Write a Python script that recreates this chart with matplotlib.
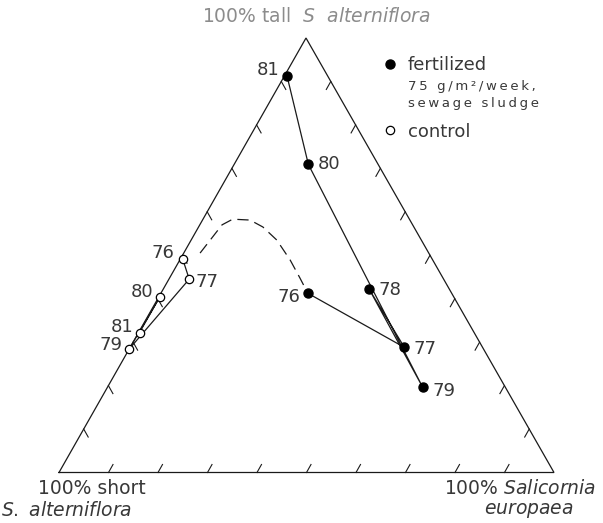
import numpy as np
import matplotlib
matplotlib.use("Agg")
import matplotlib.pyplot as plt
from matplotlib.lines import Line2D

plt.rcParams['font.family'] = ['DejaVu Sans']
plt.rcParams['mathtext.fontset'] = 'custom'
plt.rcParams['mathtext.rm'] = 'DejaVu Sans'
plt.rcParams['mathtext.it'] = 'DejaVu Sans:italic'

# ---- data (percent composition: tall S. alterniflora, Salicornia; short = rest)
fert_years = ["76", "77", "78", "79", "80", "81"]
fert_tall = [41.2, 28.8, 42.2, 19.6, 70.9, 91.3]
fert_salicornia = [29.8, 55.4, 41.6, 63.7, 15.0, 0.5]

ctrl_years = ["76", "77", "79", "80", "81"]
ctrl_tall = [49.1, 44.5, 28.4, 40.4, 32.2]
ctrl_salicornia = [0.5, 4.1, 0.0, 0.2, 0.2]

trans_tall = [50.5, 57.0, 58.3, 58.1, 56.5, 53.5, 48.9, 44.8, 42.5]
trans_salicornia = [3.3, 4.5, 6.0, 9.6, 13.0, 17.3, 22.3, 26.3, 28.5]

tick_fracs = [0.1, 0.2, 0.3, 0.4, 0.5, 0.6, 0.7, 0.8, 0.9]

# vertex layout (pixels): bottom-left, bottom-right, top
BLX, BRX, TOPX = 59.0, 554.0, 306.0
BASEY, TOPY = 472.5, 38.0
W = BRX - BLX
HT = BASEY - TOPY
SK = (TOPX - BLX) / W


def tern(tall, sal):
    tall = np.asarray(tall, float) / 100
    sal = np.asarray(sal, float) / 100
    return sal + tall * SK, tall


def pxoff(dpx, dpy):
    return dpx / W, -dpy / HT


fig = plt.figure(figsize=(6.03, 5.23), dpi=100)
ax = fig.add_axes([0, 0, 1, 1])
ax.set_xlim(-BLX / W, (603 - BLX) / W)
ax.set_ylim(-(523 - BASEY) / HT, BASEY / HT)
ax.axis('off')

lc = '#1a1a1a'
tx, ty = tern([0, 0, 100, 0], [0, 100, 0, 0])
ax.plot(tx, ty, color=lc, lw=0.9, solid_joinstyle='miter')

# ticks (short strokes pointing into the triangle)
for f in tick_fracs:
    bx, by = tern(0, f * 100)
    ox, oy = pxoff(4.5, -8)
    ax.plot([bx, bx + ox], [by, by + oy], color=lc, lw=0.8)
    rx, ry = tern(f * 100, (1 - f) * 100)
    ox, oy = pxoff(-4.5, 8)
    ax.plot([rx, rx + ox], [ry, ry + oy], color=lc, lw=0.8)
    lx, ly = tern(f * 100, 0)
    ox, oy = pxoff(4.5, 8)
    ax.plot([lx, lx + ox], [ly, ly + oy], color=lc, lw=0.8)

# transition dashed curve
dx, dy = tern(trans_tall, trans_salicornia)
ax.plot(dx, dy, color=lc, lw=0.9, ls=(0, (9, 5)))

# fertilized
fx, fy = tern(fert_tall, fert_salicornia)
ax.plot(fx, fy, color=lc, lw=0.9, marker='o', ms=6.5, mfc='black', mec='black')

# control
cx, cy = tern(ctrl_tall, ctrl_salicornia)
ax.plot(cx, cy, color=lc, lw=0.9, marker='o', ms=6, mfc='white', mec='black', mew=0.9)

fs = 13
tc = '#383838'
# offsets in pixels (dx, dy_down)
fert_off = {"76": (-8, 4, 'right'), "77": (9, 2, 'left'), "78": (9, 1, 'left'),
            "79": (9.5, 4, 'left'), "80": (9, 0, 'left'), "81": (-7, -6, 'right')}
for yr, x, y in zip(fert_years, fx, fy):
    ox, oy, ha = fert_off[yr]
    ax.annotate(yr, (x, y), xytext=(ox * 0.72, -oy * 0.72), textcoords='offset points',
                ha=ha, va='center', fontsize=fs, color=tc)

ctrl_off = {"76": (-8, -6, 'right'), "77": (6, 3, 'left'), "79": (-7, -4, 'right'),
            "80": (-6, -5, 'right'), "81": (-6, -6, 'right')}
for yr, x, y in zip(ctrl_years, cx, cy):
    ox, oy, ha = ctrl_off[yr]
    ax.annotate(yr, (x, y), xytext=(ox * 0.72, -oy * 0.72), textcoords='offset points',
                ha=ha, va='center', fontsize=fs, color=tc)


def fig_xy(px, py):
    return px / 603, 1 - py / 523


# vertex labels
ax.text(*fig_xy(316, 16), "100% tall  $\\mathit{S\\ \\ alterniflora}$",
        transform=ax.transAxes, ha='center', va='center', fontsize=13.5,
        color='#8c8c8c')
ax.text(*fig_xy(92, 489), "100% short", transform=ax.transAxes,
        ha='center', va='center', fontsize=13.5, color=tc)
ax.text(*fig_xy(67, 511), "$\\mathit{S.\\ alterniflora}$", transform=ax.transAxes,
        ha='center', va='center', fontsize=13.5, color=tc)
ax.text(*fig_xy(520, 489), "100% $\\mathit{Salicornia}$", transform=ax.transAxes,
        ha='center', va='center', fontsize=13.5, color=tc)
ax.text(*fig_xy(529, 511), "$\\mathit{europaea}$", transform=ax.transAxes,
        ha='center', va='center', fontsize=13.5, color=tc)

# legend
handles = [Line2D([], [], ls='none', marker='o', ms=6.5, mfc='black', mec='black'),
           Line2D([], [], ls='none', marker='o', ms=6, mfc='white', mec='black', mew=0.9)]
leg = ax.legend(handles, ["fertilized", "control"], loc='upper left',
                bbox_to_anchor=fig_xy(384.6, 56), frameon=False,
                fontsize=13, handlelength=0.6, handletextpad=0.7,
                labelspacing=2.7, borderaxespad=0, borderpad=0)
for t in leg.get_texts():
    t.set_color(tc)
sub = "\u2009".join("75 g/m\u00b2/week,") + "\n" + "\u2009".join("sewage sludge")
ax.text(*fig_xy(408, 80), sub, transform=ax.transAxes,
        ha='left', va='top', fontsize=9.5, color=tc, linespacing=1.35)

fig.savefig("out.png", dpi=100)
